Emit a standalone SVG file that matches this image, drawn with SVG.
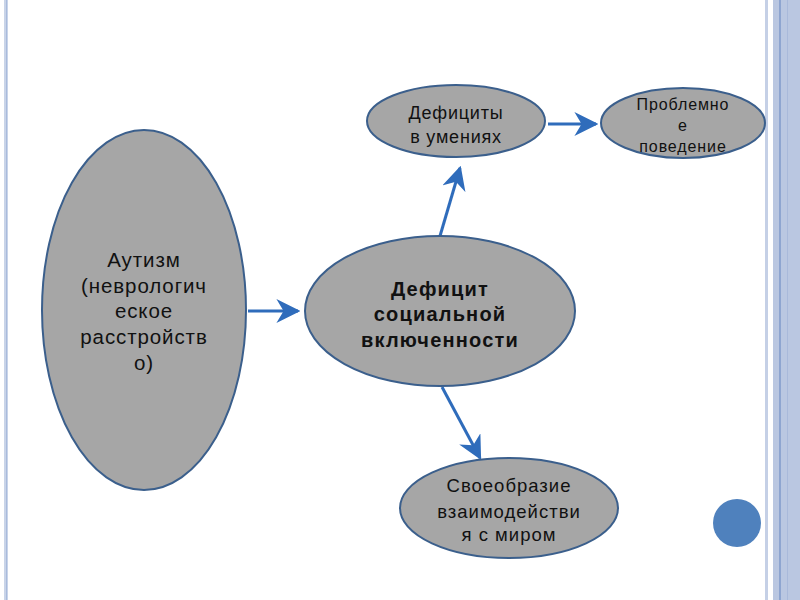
<svg xmlns="http://www.w3.org/2000/svg" width="800" height="600" viewBox="0 0 800 600">
<defs>
<style>
.node ellipse{fill:#a6a6a6;stroke:#3b5f8c;stroke-width:2}
.t{font-family:"Liberation Sans",Arial,sans-serif;fill:#111;text-anchor:middle}
.conn line{stroke:#2f6cbb;stroke-width:3;fill:none}
</style>
<marker id="ah" markerWidth="8" markerHeight="8" viewBox="0 0 10 10" refX="9" refY="5" orient="auto" markerUnits="strokeWidth">
<path d="M0,0 L10,5 L0,10 L3,5 Z" fill="#2f6cbb"/>
</marker>
</defs>
<rect width="800" height="600" fill="#fff"/>
<g id="frame">
<rect x="4" y="0" width="4" height="600" fill="#c9d4e8"/>
<rect x="6" y="0" width="1" height="600" fill="#a9bbdc"/>
<rect x="765" y="0" width="3" height="600" fill="#c5d0e6"/>
<rect x="773" y="0" width="27" height="600" fill="#bac7e1"/>
<rect x="779" y="0" width="2" height="600" fill="#8ea5d0"/>
<rect x="787" y="0" width="1" height="600" fill="#a9b9da"/>
</g>
<g class="conn" id="connectors">
<line x1="248" y1="311" x2="298" y2="311" marker-end="url(#ah)"/>
<line x1="440" y1="236" x2="460" y2="168" marker-end="url(#ah)"/>
<line x1="548" y1="124" x2="596" y2="124" marker-end="url(#ah)"/>
<line x1="442" y1="387" x2="480" y2="458" marker-end="url(#ah)"/>
</g>
<g class="node" id="autism">
<ellipse cx="144" cy="310" rx="102" ry="180"/>
<text class="t" font-size="20.5" letter-spacing="0.9"><tspan x="144" y="267">Аутизм</tspan><tspan x="144" y="293">(неврологич</tspan><tspan x="144" y="318">еское</tspan><tspan x="144" y="344">расстройств</tspan><tspan x="144" y="370">о)</tspan></text>
</g>
<g class="node" id="deficit">
<ellipse cx="440" cy="311" rx="135" ry="75"/>
<text class="t" font-size="20" font-weight="bold" letter-spacing="1.2"><tspan x="440" y="296">Дефицит</tspan><tspan x="440" y="321">социальной</tspan><tspan x="440" y="347">включенности</tspan></text>
</g>
<g class="node" id="skills">
<ellipse cx="456" cy="121" rx="89" ry="36"/>
<text class="t" font-size="18" letter-spacing="0.8"><tspan x="456" y="119">Дефициты</tspan><tspan x="456" y="143">в умениях</tspan></text>
</g>
<g class="node" id="behavior">
<ellipse cx="683" cy="123" rx="82" ry="35"/>
<text class="t" font-size="16" letter-spacing="0.9"><tspan x="683" y="110">Проблемно</tspan><tspan x="683" y="131">е</tspan><tspan x="683" y="152">поведение</tspan></text>
</g>
<g class="node" id="interaction">
<ellipse cx="509" cy="508" rx="109" ry="50"/>
<text class="t" font-size="18.5" letter-spacing="1"><tspan x="509" y="492">Своеобразие</tspan><tspan x="509" y="518">взаимодействи</tspan><tspan x="509" y="541">я с миром</tspan></text>
</g>
<circle id="dot" cx="737" cy="523" r="24" fill="#4f81bd"/>
</svg>
